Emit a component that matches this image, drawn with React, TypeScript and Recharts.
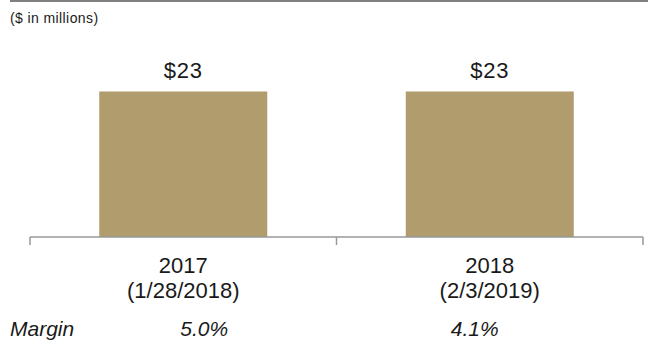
import { Bar, BarChart, LabelList, XAxis, YAxis } from 'recharts';

// Fiscal years with their period-end dates.
const years = ['2017', '2018'];
const periodEnds = ['(1/28/2018)', '(2/3/2019)'];
const amounts = [23, 23];
const margins = ['5.0%', '4.1%'];

const data = years.map((year, i) => ({ year, end: periodEnds[i], amount: amounts[i], margin: margins[i] }));

const FONT = '"Liberation Sans", Arial, sans-serif';
const TEXT = '#1a1a1a';
const AXIS = '#999999';
const BAR = '#B09C6C';
// Margin figures are not centred under the bars in the source; small nudge per column.
const MARGIN_NUDGE = [21, -15];

// eslint-disable-next-line @typescript-eslint/no-explicit-any
const YearTick = (props: any) => {
  const { x, y, payload, index, visibleTicksCount } = props;
  const half = payload?.offset ?? 0;
  const row = data[index];
  const isLast = index === visibleTicksCount - 1;
  const axisY = y - 8;
  return (
    <g>
      <line x1={x - half} y1={axisY} x2={x - half} y2={axisY + 8} stroke={AXIS} strokeWidth={1.5} />
      {isLast && (
        <line x1={x + half} y1={axisY} x2={x + half} y2={axisY + 8} stroke={AXIS} strokeWidth={1.5} />
      )}
      <text x={x} y={axisY + 36} textAnchor="middle" fontSize={22} fill={TEXT} fontFamily={FONT}>
        {payload.value}
      </text>
      <text x={x} y={axisY + 61} textAnchor="middle" fontSize={22} fill={TEXT} fontFamily={FONT}>
        {row?.end}
      </text>
      {index === 0 && (
        <text x={x - half - 20} y={axisY + 99} fontSize={21} fontStyle="italic" fill={TEXT} fontFamily={FONT}>
          Margin
        </text>
      )}
      <text
        x={x + (MARGIN_NUDGE[index] ?? 0)}
        y={axisY + 99}
        textAnchor="middle"
        fontSize={21}
        fontStyle="italic"
        fill={TEXT}
        fontFamily={FONT}
      >
        {row?.margin}
      </text>
    </g>
  );
};

export default function App() {
  return (
    <div style={{ position: 'absolute', left: 0, top: 0, width: 648, height: 347, background: '#fff', fontFamily: FONT }}>
      <div style={{ position: 'absolute', left: 10, right: 0, top: 0, height: 2, background: '#808080' }} />
      <div style={{ position: 'absolute', left: 10, top: 10, fontSize: 14, color: TEXT, letterSpacing: 0.4 }}>
        ($ in millions)
      </div>
      <BarChart
        width={648}
        height={347}
        data={data}
        margin={{ top: 60, right: 5, bottom: 10, left: 30 }}
        barCategoryGap="22.6%"
      >
        <YAxis hide domain={[0, 28]} />
        <XAxis
          dataKey="year"
          height={100}
          axisLine={{ stroke: AXIS, strokeWidth: 1.5 }}
          tickLine={false}
          tickSize={8}
          tickMargin={0}
          interval={0}
          tick={<YearTick />}
        />
        <Bar dataKey="amount" fill={BAR} isAnimationActive={false}>
          <LabelList
            dataKey="amount"
            position="top"
            offset={14}
            formatter={(v: number) => `$${v}`}
            fill={TEXT}
            fontSize={22}
            fontFamily={FONT}
            letterSpacing={0.8}
          />
        </Bar>
      </BarChart>
    </div>
  );
}
